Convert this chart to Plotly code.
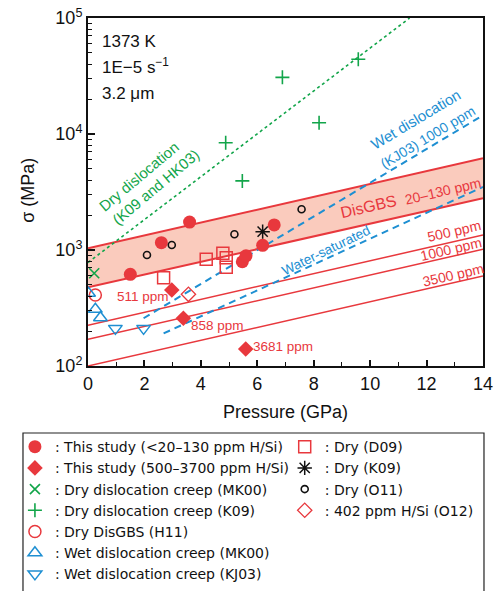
import plotly.graph_objects as go

RED = "#E8383D"
GREEN = "#12A54A"
BLUE = "#1E8FD2"
BAND = "rgba(245,160,135,0.55)"
FONT = "Liberation Sans, Arial, sans-serif"
LEGFONT = "DejaVu Sans, Liberation Sans, sans-serif"

# ---------------- data ----------------
# flow-law lines (pressure GPa, stress MPa at the ends)
band_P = [0, 14]
band_upper = [1035, 6170]
band_lower = [477, 2795]
ppm500 = [225, 1346]
ppm1000 = [170, 1014]
ppm3500 = [100, 597]
wet_kj03_P = [1.97, 14]
wet_kj03 = [258, 14500]
wsat_P = [2.68, 14]
wsat = [191, 3500]
dry_disl_P = [0, 11.4]
dry_disl = [780, 100000]

# experimental points
this_low_P = [1.5, 2.6, 3.6, 5.47, 5.6, 6.19, 6.6]
this_low_s = [617, 1156, 1742, 792, 890, 1097, 1644]
this_high_P = [2.97, 3.38, 5.59]
this_high_s = [452, 258, 140]
d09_P = [2.68, 4.19, 4.78, 4.9, 4.9]
d09_s = [577, 832, 937, 859, 709]
k09_dry_P = [6.19]
k09_dry_s = [1439]
o11_P = [2.09, 2.97, 5.19, 7.57]
o11_s = [906, 1104, 1365, 2245]
o12_P = [3.56]
o12_s = [415]
mk00_dry_P = [0.22]
mk00_dry_s = [630]
k09_disl_P = [4.88, 5.47, 6.89, 8.19, 9.58]
k09_disl_s = [8410, 3940, 30800, 12500, 44100]
h11_P = [0.26]
h11_s = [409]
mk00_wet_P = [0.02, 0.26, 0.44]
mk00_wet_s = [424, 308, 261]
kj03_P = [0.97, 1.97]
kj03_s = [211, 211]

y_tickvals = [100, 1000, 10000, 100000]
y_ticktext = ["10<sup>2</sup>", "10<sup>3</sup>", "10<sup>4</sup>", "10<sup>5</sup>"]
x_tickvals = [0, 2, 4, 6, 8, 10, 12, 14]

fig = go.Figure()

# band
fig.add_trace(go.Scatter(x=band_P, y=band_lower, mode="lines", line=dict(color=RED, width=2),
                         showlegend=False, hoverinfo="skip"))
fig.add_trace(go.Scatter(x=band_P, y=band_upper, mode="lines", line=dict(color=RED, width=2),
                         fill="tonexty", fillcolor=BAND, showlegend=False, hoverinfo="skip"))
for ys in (ppm500, ppm1000, ppm3500):
    fig.add_trace(go.Scatter(x=band_P, y=ys, mode="lines", line=dict(color=RED, width=1.5),
                             showlegend=False, hoverinfo="skip"))
fig.add_trace(go.Scatter(x=wet_kj03_P, y=wet_kj03, mode="lines",
                         line=dict(color=BLUE, width=2, dash="7px,5px"), showlegend=False))
fig.add_trace(go.Scatter(x=wsat_P, y=wsat, mode="lines",
                         line=dict(color=BLUE, width=2, dash="7px,5px"), showlegend=False))
fig.add_trace(go.Scatter(x=dry_disl_P, y=dry_disl, mode="lines",
                         line=dict(color=GREEN, width=1.6, dash="dot"), showlegend=False))

def pts(x, y, name, symbol, color, size, lw=1.5, legend="legend", fillc=None):
    fig.add_trace(go.Scatter(
        x=x, y=y, mode="markers", name=name, legend=legend,
        marker=dict(symbol=symbol, size=size, color=fillc if fillc else color,
                    line=dict(color=color, width=lw))))

pts(this_low_P, this_low_s, ": This study (<20\u2013130 ppm H/Si)", "circle", RED, 13, 0)
pts(this_high_P, this_high_s, ": This study (500\u20133700 ppm H/Si)", "diamond", RED, 12, 0)
pts(mk00_dry_P, mk00_dry_s, ": Dry dislocation creep (MK00)", "x-thin-open", GREEN, 10, 1.6)
pts(k09_disl_P, k09_disl_s, ": Dry dislocation creep (K09)", "cross-thin-open", GREEN, 10, 1.6)
pts(h11_P, h11_s, ": Dry DisGBS (H11)", "circle-open", RED, 12, 1.5)
pts(mk00_wet_P, mk00_wet_s, ": Wet dislocation creep (MK00)", "triangle-up-open", BLUE, 12, 1.5)
pts(kj03_P, kj03_s, ": Wet dislocation creep (KJ03)", "triangle-down-open", BLUE, 12, 1.5)
pts(d09_P, d09_s, ": Dry (D09)", "square-open", RED, 12, 1.5, "legend2")
pts(k09_dry_P, k09_dry_s, ": Dry (K09)", "asterisk-open", "#111111", 12, 1.5, "legend2")
pts(o11_P, o11_s, ": Dry (O11)", "circle-open", "#111111", 7, 1.6, "legend2")
pts(o12_P, o12_s, ": 402 ppm H/Si (O12)", "diamond-open", RED, 11, 1.3, "legend2")

def label(text, x, logy, color, size, angle=0, xanchor="center"):
    fig.add_annotation(x=x, y=logy, xref="x", yref="y", text=text, showarrow=False,
                       textangle=angle, xanchor=xanchor, yanchor="middle",
                       font=dict(family=FONT, size=size, color=color))

label("1373 K", 0.44, 4.80, "#111111", 17, xanchor="left")
label("1E\u22125 s<sup>\u22121</sup>", 0.44, 4.59, "#111111", 17, xanchor="left")
label("3.2 \u03bcm", 0.44, 4.35, "#111111", 17, xanchor="left")
label("Dry dislocation", 1.80, 3.63, GREEN, 15, -40)
label("(K09 and HK03)", 2.42, 3.545, GREEN, 15, -40)
label("Wet dislocation", 11.6, 4.125, BLUE, 15, -31)
label("(KJ03) 1000 ppm", 12.05, 3.975, BLUE, 14, -31)
label("DisGBS", 9.95, 3.379, RED, 16, -13)
label("20\u2013130 ppm", 12.58, 3.509, RED, 14, -13)
label("500 ppm", 12.98, 3.16, RED, 14, -13)
label("1000 ppm", 12.88, 3.005, RED, 14, -13)
label("3500 ppm", 12.93, 2.786, RED, 14, -13)
label("Water-saturated", 8.44, 2.995, BLUE, 13.5, -26)
label("511 ppm", 1.96, 2.603, RED, 13.5)
label("858 ppm", 4.6, 2.353, RED, 13.5)
label("3681 ppm", 6.92, 2.172, RED, 13.5)

# axis titles
fig.add_annotation(x=0.499, y=-0.132, xref="paper", yref="paper", text="Pressure (GPa)",
                   showarrow=False, xanchor="center", yanchor="middle",
                   font=dict(family=FONT, size=18, color="#111111"))
fig.add_annotation(x=-0.152, y=0.506, xref="paper", yref="paper", text="\u03c3 (MPa)",
                   showarrow=False, xanchor="center", yanchor="middle", textangle=-90,
                   font=dict(family=FONT, size=18, color="#111111"))

# legend frame
fig.add_shape(type="rect", xref="paper", yref="paper", x0=-0.1646, x1=1.0025, y0=-0.66, y1=-0.1925,
              line=dict(color="#222222", width=1.2), fillcolor="rgba(0,0,0,0)")

minor_y = [m * 10 ** k for k in (2, 3, 4) for m in range(2, 10)]

fig.update_layout(
    width=498, height=591,
    margin=dict(l=88, r=15, t=18, b=225, autoexpand=False),
    paper_bgcolor="white", plot_bgcolor="white",
    font=dict(family=FONT, size=15, color="#111111"),
    xaxis=dict(range=[0, 14], tickvals=x_tickvals, ticks="inside", ticklen=6, tickwidth=1.5,
               tickcolor="#111111", showgrid=False, zeroline=False,
               showline=True, linecolor="#111111", linewidth=2, mirror=True,
               minor=dict(ticks="inside", ticklen=4, dtick=1, tickcolor="#111111", tickwidth=1.2),
               tickfont=dict(size=18), ticklabeloverflow="allow"),
    yaxis=dict(type="log", range=[2, 5], tickvals=y_tickvals, ticktext=y_ticktext,
               ticks="inside", ticklen=7, tickwidth=1.5, tickcolor="#111111",
               showgrid=False, zeroline=False,
               showline=True, linecolor="#111111", linewidth=2, mirror=True,
               minor=dict(ticks="inside", ticklen=4, tickmode="array", tickvals=minor_y,
                          tickcolor="#111111", tickwidth=1.2),
               tickfont=dict(size=18), ticklabeloverflow="allow"),
    legend=dict(x=-0.185, y=-0.187, xanchor="left", yanchor="top", bgcolor="rgba(0,0,0,0)",
                font=dict(size=14, family=LEGFONT), tracegroupgap=0, itemwidth=30,
                traceorder="normal"),
    legend2=dict(x=0.498, y=-0.187, xanchor="left", yanchor="top", bgcolor="rgba(0,0,0,0)",
                 font=dict(size=14, family=LEGFONT), tracegroupgap=0, itemwidth=30,
                 traceorder="normal"),
)

fig.write_html("out.html", config={"displayModeBar": False},
               post_script="document.body.style.margin='0px';")
